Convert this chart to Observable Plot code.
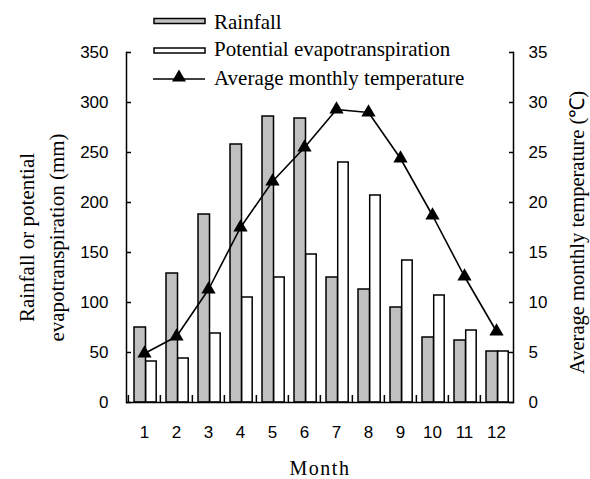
<!DOCTYPE html>
<html>
<head>
<meta charset="utf-8">
<script src="https://cdn.jsdelivr.net/npm/d3@7"></script>
<script src="https://cdn.jsdelivr.net/npm/@observablehq/plot@0.6"></script>
<style>
  html, body { margin: 0; padding: 0; background: #fff; }
  #wrap { position: relative; width: 590px; height: 479px; overflow: hidden; }
  #wrap svg.legend { position: absolute; left: 0; top: 0; pointer-events: none; }
  .month-title text { letter-spacing: 1.5px; }
</style>
</head>
<body>
<div id="wrap"></div>
<script>
// ---- data ----
const months = [1, 2, 3, 4, 5, 6, 7, 8, 9, 10, 11, 12];
const rainfall = [75, 129, 188, 258, 286, 284, 125, 113, 95, 65, 62, 51];
const evapotranspiration = [41, 44, 69, 105, 125, 148, 240, 207, 142, 107, 72, 51];
const temperature = [4.9, 6.6, 11.3, 17.5, 22.1, 25.5, 29.3, 29.0, 24.4, 18.7, 12.6, 7.1];
const leftTicks = [0, 50, 100, 150, 200, 250, 300, 350];
const rightTicks = [0, 5, 10, 15, 20, 25, 30, 35];
const seriesNames = ["Rainfall", "Potential evapotranspiration", "Average monthly temperature"];
const leftTitle = "Rainfall or potential\nevapotranspiration (mm)";
const rightTitle = "Average monthly temperature (\u2103)";
const xTitle = "Month";

// ---- derived table ----
const leftMax = 350, rightMax = 35;
const k = leftMax / rightMax; // maps temperature onto the left scale
const table = months.map((m, i) => ({
  month: m, rain: rainfall[i], pet: evapotranspiration[i], temp: temperature[i]
}));

const W = 590, H = 479;
const mL = 126, mR = 77, mT = 52, mB = 77;
const band = (W - mL - mR) / months.length;
const sans = "'Liberation Sans', Arial, sans-serif";
const serif = "'Liberation Serif', 'Times New Roman', serif";

const chart = Plot.plot({
  width: W, height: H,
  marginLeft: mL, marginRight: mR, marginTop: mT, marginBottom: mB,
  style: { fontFamily: sans, fontSize: "17px", color: "#000", background: "#fff" },
  x: { type: "band", domain: months, padding: 0, label: null },
  y: { domain: [0, leftMax], label: null },
  marks: [
    Plot.barY(table, { x: "month", y: "rain", fill: "#c0c0c0", stroke: "#000", strokeWidth: 1.5, insetLeft: 6, insetRight: 14.5 }),
    Plot.barY(table, { x: "month", y: "pet", fill: "#fff", stroke: "#000", strokeWidth: 1.5, insetLeft: 17.7, insetRight: 3.8 }),
    Plot.line(table, { x: "month", y: d => d.temp * k, stroke: "#000", strokeWidth: 1.6 }),
    Plot.dot(table, { x: "month", y: d => d.temp * k, symbol: "triangle", fill: "#000", stroke: "none", r: 5.3 }),
    // axis lines (left, right, bottom)
    Plot.frame({ anchor: "left", stroke: "#000", strokeWidth: 1.5 }),
    Plot.frame({ anchor: "right", stroke: "#000", strokeWidth: 1.5 }),
    Plot.ruleY([0], { stroke: "#000", strokeWidth: 1.5 }),
    // left axis: inward ticks, then labels
    Plot.axisY(leftTicks, { anchor: "left", tickSize: 5, insetLeft: 5, tickFormat: () => "", strokeWidth: 1.5, label: null }),
    Plot.axisY(leftTicks, { anchor: "left", tickSize: 0, tickPadding: 18, fontSize: 17, fontFamily: sans, label: null }),
    // right axis (temperature)
    Plot.axisY(leftTicks, { anchor: "right", tickSize: 5, insetRight: 5, tickFormat: () => "", strokeWidth: 1.5, label: null }),
    Plot.axisY(rightTicks.map(t => t * k), { anchor: "right", tickSize: 0, tickPadding: 15, tickFormat: d => d / k, fontSize: 17, fontFamily: sans, label: null }),
    // bottom axis: boundary ticks pointing up, labels
    Plot.axisX(months, { anchor: "bottom", tickSize: 7, insetBottom: 7, dx: -band / 2, tickFormat: () => "", strokeWidth: 1.5, label: null }),
    Plot.axisX(months, { anchor: "bottom", tickSize: 0, tickPadding: 23, fontSize: 17, fontFamily: sans, label: null }),
    // titles
    Plot.text([leftTitle], { frameAnchor: "left", textAnchor: "middle", rotate: -90, dx: -(mL - 39), dy: 10, text: d => d, lineHeight: 1.42, fontFamily: serif, fontSize: 21, fill: "#000" }),
    Plot.text([rightTitle], { frameAnchor: "right", textAnchor: "middle", rotate: -90, dx: 64, dy: 5, text: d => d, fontFamily: serif, fontSize: 20.5, fill: "#000" }),
    Plot.text([xTitle], { frameAnchor: "bottom", dy: 66, text: d => d, lineAnchor: "middle", fontFamily: serif, fontSize: 20, fill: "#000", className: "month-title" })
  ]
});

const wrap = document.getElementById("wrap");
wrap.appendChild(chart);

// ---- legend (overlay) ----
const lg = d3.create("svg").attr("class", "legend").attr("width", W).attr("height", 100);
const rows = [
  { type: "bar", fill: "#c0c0c0", y: 21, base: 28.5 },
  { type: "bar", fill: "#fff", y: 50.5, base: 56 },
  { type: "line", y: 79, base: 84.5 }
];
rows.forEach((r, i) => {
  const g = lg.append("g");
  if (r.type === "bar") {
    g.append("rect").attr("x", 154).attr("y", r.y - 2.5).attr("width", 51).attr("height", 5)
      .attr("fill", r.fill).attr("stroke", "#000").attr("stroke-width", 1.5);
  } else {
    g.append("line").attr("x1", 153).attr("x2", 205).attr("y1", r.y).attr("y2", r.y)
      .attr("stroke", "#000").attr("stroke-width", 1.6);
    g.append("path").attr("transform", `translate(179,${r.y - 1.5})`)
      .attr("d", d3.symbol(d3.symbolTriangle, 85)()).attr("fill", "#000");
  }
  g.append("text").attr("x", 214).attr("y", r.base)
    .attr("font-family", serif).attr("font-size", 21).attr("fill", "#000")
    .text(seriesNames[i]);
});
wrap.appendChild(lg.node());
</script>
</body>
</html>
